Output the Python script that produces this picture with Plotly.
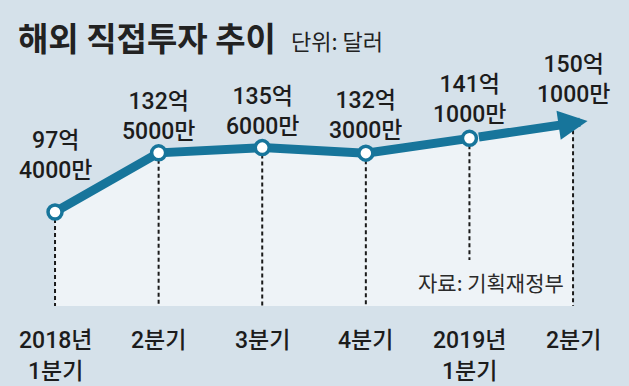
import plotly.graph_objects as go

# ---- data ----
categories = ["2018년<br>1분기", "2분기", "3분기", "4분기", "2019년<br>1분기", "2분기"]
values = [97.4, 132.5, 135.6, 132.3, 141.1, 150.1]  # 억 달러
value_labels = ["97억<br>4000만", "132억<br>5000만", "135억<br>6000만",
                "132억<br>3000만", "141억<br>1000만", "150억<br>1000만"]
title_text = "해외 직접투자 추이"
unit_text = "단위: 달러"
source_text = "자료: 기획재정부"

# ---- style ----
LINE_COLOR = "#17759b"
BG = "#d5e1ea"
PANEL = "#eef3f7"
TEXT = "#1c1c1c"
KR_FONT = "Noto Sans CJK KR, sans-serif"
NUM_FONT = "Roboto, Noto Sans CJK KR, sans-serif"
BASE = 41.6          # bottom of the light panel (y units)
SOURCE_GAP = 68.9    # dashed line under 2019 Q1 stops above source note
label_shift = [56, 36, 36, 38, 39, 44]
H = 386
W = 629

xs = list(range(len(values)))
fig = go.Figure()

# light panel under the line
fig.add_trace(go.Scatter(
    x=xs + [xs[-1], xs[0]], y=values + [BASE, BASE],
    fill="toself", fillcolor=PANEL, mode="lines", line=dict(width=0),
    hoverinfo="skip", showlegend=False))

# dashed drop lines
dx, dy = [], []
for i, v in enumerate(values):
    bottom = SOURCE_GAP if i == 4 else BASE
    dx += [i, i, None]
    dy += [v, bottom, None]
fig.add_trace(go.Scatter(x=dx, y=dy, mode="lines",
                         line=dict(color="#1a1a1a", width=2, dash="4px,3px"),
                         hoverinfo="skip", showlegend=False))

# main line (to the last marked point)
fig.add_trace(go.Scatter(
    x=xs[:-1], y=values[:-1], mode="lines+markers",
    line=dict(color=LINE_COLOR, width=9),
    marker=dict(size=14, color="white", line=dict(color=LINE_COLOR, width=3.5)),
    showlegend=False))

# arrow for the last segment, extended slightly past the last point
ext = 0.14
tip_x = xs[-1] + ext
tip_y = values[-1] + (values[-1] - values[-2]) * ext
fig.add_annotation(x=tip_x, y=tip_y, ax=xs[-2], ay=values[-2],
                   xref="x", yref="y", axref="x", ayref="y",
                   showarrow=True, arrowhead=2, arrowsize=0.65, arrowwidth=9,
                   arrowcolor=LINE_COLOR, startstandoff=8, text="")

num_font = dict(family=NUM_FONT, size=23, color=TEXT, weight=500)

# value labels
for i, (v, t) in enumerate(zip(values, value_labels)):
    fig.add_annotation(x=xs[i], y=v, text=t, showarrow=False,
                       xanchor="center", yanchor="middle",
                       yshift=label_shift[i], font=num_font)

# category labels
cat_rows = [340, 371]
for i, c in enumerate(categories):
    for j, ln in enumerate(c.split("<br>")):
        fig.add_annotation(x=xs[i], y=1 - cat_rows[j] / H, xref="x", yref="paper",
                           text=ln, showarrow=False, xanchor="center",
                           yanchor="middle", font=num_font)

# title and unit
fig.add_annotation(x=16 / W, y=1 - 37 / H, xref="paper", yref="paper",
                   text="<b>" + title_text + "</b>", showarrow=False,
                   xanchor="left", yanchor="middle",
                   font=dict(family=KR_FONT, size=33, color="#222222"))
fig.add_annotation(x=289 / W, y=1 - 40 / H, xref="paper", yref="paper",
                   text=unit_text, showarrow=False, xanchor="left", yanchor="middle",
                   font=dict(family=KR_FONT, size=22, color="#222222"))

# source
fig.add_annotation(x=566 / W, y=1 - 282 / H, xref="paper", yref="paper",
                   text=source_text, showarrow=False, xanchor="right", yanchor="middle",
                   font=dict(family=KR_FONT, size=21, color="#2a2a2a"))

fig.update_layout(
    width=W, height=H, margin=dict(l=0, r=0, t=0, b=0),
    paper_bgcolor=BG, plot_bgcolor=BG,
    xaxis=dict(range=[-0.531, 5.54], visible=False, fixedrange=True),
    yaxis=dict(range=[-5.9, 223.2], visible=False, fixedrange=True),
)

fig.write_html("out.html", config={"displayModeBar": False},
               post_script="document.body.style.margin='0';"
                           "document.body.style.overflow='hidden';")
